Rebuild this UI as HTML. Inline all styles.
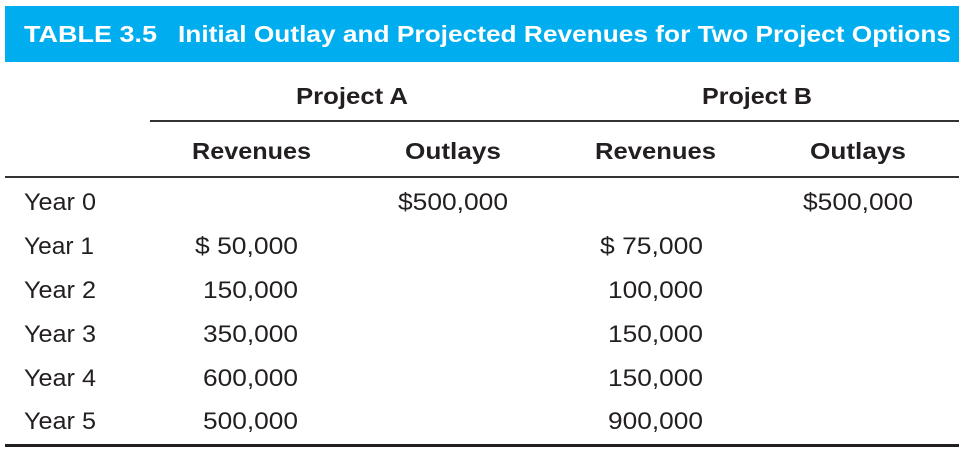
<!DOCTYPE html>
<html><head><style>
html,body{margin:0;padding:0;background:#fff;}
svg{display:block;}
text{font-family:"Liberation Sans",sans-serif;fill:#231f20;}
</style></head><body>
<svg width="967" height="455" viewBox="0 0 967 455" xmlns="http://www.w3.org/2000/svg">
<rect x="5" y="6" width="954" height="56" fill="#00aeef"/>
<text x="24" y="42" font-size="23" font-weight="bold" style="fill:#fff" textLength="133" lengthAdjust="spacingAndGlyphs">TABLE 3.5</text>
<text x="178" y="42" font-size="23" font-weight="bold" style="fill:#fff" textLength="773" lengthAdjust="spacingAndGlyphs">Initial Outlay and Projected Revenues for Two Project Options</text>
<g font-weight="bold" font-size="23">
<text x="296" y="104" textLength="112" lengthAdjust="spacingAndGlyphs">Project A</text>
<text x="702" y="104" textLength="110" lengthAdjust="spacingAndGlyphs">Project B</text>
<text x="192" y="159" textLength="119" lengthAdjust="spacingAndGlyphs">Revenues</text>
<text x="405" y="159" textLength="96" lengthAdjust="spacingAndGlyphs">Outlays</text>
<text x="595" y="159" textLength="121" lengthAdjust="spacingAndGlyphs">Revenues</text>
<text x="810" y="159" textLength="96" lengthAdjust="spacingAndGlyphs">Outlays</text>
</g>
<rect x="150" y="120" width="809" height="2" fill="#333"/>
<rect x="5" y="176" width="954" height="2" fill="#333"/>
<rect x="5" y="444" width="954" height="3" fill="#231f20"/>
<g font-size="24">
<text x="24" y="210" textLength="72" lengthAdjust="spacingAndGlyphs">Year 0</text>
<text x="24" y="254" textLength="70" lengthAdjust="spacingAndGlyphs">Year 1</text>
<text x="24" y="298" textLength="72" lengthAdjust="spacingAndGlyphs">Year 2</text>
<text x="24" y="342" textLength="72" lengthAdjust="spacingAndGlyphs">Year 3</text>
<text x="24" y="386" textLength="72" lengthAdjust="spacingAndGlyphs">Year 4</text>
<text x="24" y="429" textLength="72" lengthAdjust="spacingAndGlyphs">Year 5</text>
<text x="398" y="210" textLength="110" lengthAdjust="spacingAndGlyphs">$500,000</text>
<text x="803" y="210" textLength="110" lengthAdjust="spacingAndGlyphs">$500,000</text>
<text x="195" y="254" textLength="103" lengthAdjust="spacingAndGlyphs">$ 50,000</text>
<text x="600" y="254" textLength="103" lengthAdjust="spacingAndGlyphs">$ 75,000</text>
<text x="203" y="298" textLength="95" lengthAdjust="spacingAndGlyphs">150,000</text>
<text x="203" y="342" textLength="95" lengthAdjust="spacingAndGlyphs">350,000</text>
<text x="203" y="386" textLength="95" lengthAdjust="spacingAndGlyphs">600,000</text>
<text x="203" y="429" textLength="95" lengthAdjust="spacingAndGlyphs">500,000</text>
<text x="608" y="298" textLength="95" lengthAdjust="spacingAndGlyphs">100,000</text>
<text x="608" y="342" textLength="95" lengthAdjust="spacingAndGlyphs">150,000</text>
<text x="608" y="386" textLength="95" lengthAdjust="spacingAndGlyphs">150,000</text>
<text x="608" y="429" textLength="95" lengthAdjust="spacingAndGlyphs">900,000</text>
</g>
</svg>
</body></html>
